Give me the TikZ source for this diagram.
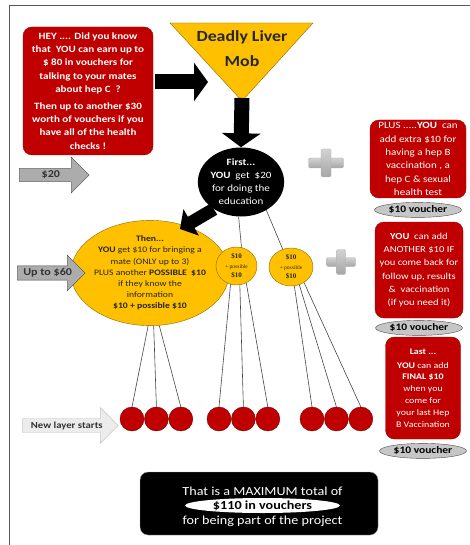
\documentclass[tikz,border=0pt]{standalone}
\usepackage{fontspec}
\setmainfont{Carlito}[FakeStretch=1.15]
\newfontfamily\smallserif{Liberation Serif}
\usetikzlibrary{arrows.meta,positioning,shapes.geometric,shapes.arrows}
\definecolor{hepred}{HTML}{C00000}
\definecolor{hepyellow}{HTML}{FFC000}
\definecolor{framegray}{HTML}{555555}
\tikzset{
	%Define standard arrow tip
	>=Stealth,
	%Define style for the red info boxes
	infobox/.style={
		rectangle,
		rounded corners=9pt,
		fill=hepred,
		draw=hepred!80!black,
		text=white,
		align=center,
		inner sep=1pt},
	% voucher ovals under the boxes
	voucher/.style={
		ellipse,
		fill=gray!45,
		draw=gray!60!black,
		minimum width=87pt,
		minimum height=15pt,
		inner sep=0pt,
		font=\bfseries\fontsize{10}{10}\selectfont},
	% grey arrows on the left
	sidepil/.style={
		single arrow,
		fill=gray!65,
		draw=gray!55!black,
		single arrow head extend=7pt,
		inner sep=0pt,
		minimum width=36pt,
		font=\bfseries\fontsize{10.5}{11}\selectfont,
		text=black!80},
	% black block arrows
	blockpil/.style={
		line width=15pt,
		-{Triangle[length=14pt,width=38pt]}},
	% yellow ellipses
	mobnode/.style={
		ellipse,
		fill=hepyellow,
		draw=hepyellow!55!black,
		align=center,
		inner sep=0pt,
		text=black!85},
	ball/.style={
		circle,
		fill=hepred,
		draw=hepred!60!black,
		minimum size=24pt,
		inner sep=0pt},
	string/.style={
		draw=gray!55!black,
		line width=0.6pt},
	plusbar/.style={
		rectangle,
		rounded corners=1.5pt,
		top color=gray!35,
		bottom color=gray!70,
		draw=gray!60,
		inner sep=0pt}
}

\begin{document}
\begin{tikzpicture}[x=1pt, y=-1pt]
	\useasboundingbox (0,0) rectangle (470,545);
	% frame
	\draw[framegray, line width=1pt] (9,545) -- (9,6) -- (470,6);
	
	% title triangle
	\filldraw[fill=hepyellow, draw=hepyellow!55!black] (170,23) coordinate (mobtl)
		-- (313,23) coordinate (mobtr) -- (242,101) coordinate (mobtip) -- cycle;
	\node[align=center, font=\bfseries\fontsize{15.5}{25}\selectfont, text=black!85] (mob) at (242,49) {Deadly Liver\\Mob};
	
	% left red box
	\node[infobox, minimum width=130pt, minimum height=128pt,
		font=\bfseries\fontsize{9.6}{13.3}\selectfont] (hey) at (88,91)
		{HEY .... Did you know\\ that\ \ YOU can earn up to\\ \$ 80 in vouchers for\\ talking to your mates\\ about hep C\ \ ?\\[3.5pt]
		 Then up to another \$30\\ worth of vouchers if you\\ have all of the health\\ checks !};
	\coordinate (mobleft) at (208,82);
	\draw[blockpil] (hey.east |- mobleft) ++(2,0) -- (mobleft);
	
	% first step
	\node[ellipse, fill=black, minimum width=83pt, minimum height=69pt, inner sep=0pt,
		text=white, align=center, font=\fontsize{9.6}{13}\selectfont] (first) at (241,182)
		{\textbf{First...}\\ \textbf{YOU}\ \ get\ \ \$20\\ for doing the\\ education};
	\draw[blockpil] ([yshift=3pt]mobtip) -- (first.north);
	
	% plus signs
	\node[plusbar, minimum width=35pt, minimum height=10pt] (plusAh) at (326,163) {};
	\node[plusbar, minimum width=10pt, minimum height=28pt] (plusAv) at (326,163) {};
	\node[plusbar, minimum width=29pt, minimum height=9pt] (plusBh) at (341,262) {};
	\node[plusbar, minimum width=9pt, minimum height=25pt] (plusBv) at (341,262) {};
	
	% right boxes and vouchers
	\node[infobox, minimum width=96pt, minimum height=78pt,
		font=\fontsize{9.6}{13.3}\selectfont] (plusbox) at (418,159)
		{PLUS .....\textbf{YOU}\ \ can\\ add extra \$10 for\\ having a hep B\\ vaccination , a\\ hep C \& sexual\\ health test};
	\node[voucher, below=4pt of plusbox] (vouchA) {\$10 voucher};
	
	\node[infobox, minimum width=88pt, minimum height=96pt,
		font=\fontsize{9.2}{13.3}\selectfont] (anotherbox) at (419,270)
		{\textbf{YOU}\ \ can add\\ ANOTHER \$10 IF\\ you come back for\\ follow up, results\\ \&\ \ vaccination\\ (if you need it)};
	\node[voucher, below=2pt of anotherbox] (vouchB) {\$10 voucher};
	
	\node[infobox, minimum width=75pt, minimum height=102pt,
		font=\fontsize{8.6}{11.8}\selectfont] (lastbox) at (423,388)
		{\textbf{Last ...}\\[2pt] \textbf{YOU} can add\\ \textbf{FINAL \$10}\\ when you\\ come for\\ your last Hep\\ B Vaccination};
	\node[voucher, below=4pt of lastbox] (vouchC) {\$10 voucher};
	
	% then step
	\node[mobnode, minimum width=123pt, minimum height=93pt,
		font=\fontsize{8.4}{11.2}\selectfont] (then) at (150,273)
		{\textbf{Then...}\\ \textbf{YOU} get \$10 for bringing a\\ mate (ONLY up to 3)\\ PLUS another \textbf{POSSIBLE\ \ \$10}\\ if they know the\\ information\\ \textbf{\$10 + possible \$10}};
	\coordinate (thentip) at (180,229);
	\draw[blockpil, line width=13pt, -{Triangle[length=13pt,width=30pt]}] (first.225) -- (thentip);
	
	\node[mobnode, minimum width=41pt, minimum height=38pt,
		font=\smallserif\fontsize{7}{9.5}\selectfont] (mateA) at (236.5,266)
		{\textbf{\$10}\\ {\fontsize{5.5}{9.5}\selectfont + possible}\\ \textbf{\$10}};
	\node[mobnode, minimum width=44pt, minimum height=38pt,
		font=\smallserif\fontsize{7}{9.5}\selectfont] (mateB) at (291,267)
		{\textbf{\$10}\\ {\fontsize{5.5}{9.5}\selectfont + possible}\\ \textbf{\$10}};
	\draw[string] (first.266) -- (mateA.75);
	\draw[string] (first.312) -- (mateB.115);
	
	% grey arrows
	\node[sidepil, minimum height=70pt, anchor=west] (twenty) at (19,175) {\$20\hspace{8pt}};
	\node[sidepil, minimum height=68pt, anchor=west] (sixty) at (17,273) {Up to \$60};
	\node[sidepil, minimum height=96pt, anchor=west, fill=gray!15, draw=gray!60,
		font=\bfseries\fontsize{9.3}{10}\selectfont] (newlayer) at (22,425.5) {New layer starts};
	
	% balls
	\node[ball] (ballA1) at (132,419) {};
	\node[ball, right=0pt of ballA1] (ballA2) {};
	\node[ball, right=0pt of ballA2] (ballA3) {};
	\node[ball] (ballB1) at (219,419) {};
	\node[ball, right=0pt of ballB1] (ballB2) {};
	\node[ball, right=0pt of ballB2] (ballB3) {};
	\node[ball] (ballC1) at (312,419) {};
	\node[ball, right=0pt of ballC1] (ballC2) {};
	\node[ball, right=0pt of ballC2] (ballC3) {};
	
	% strings
	\draw[string] (then.268) -- (ballA1.north);
	\draw[string] (then.274) -- (ballA2.north);
	\draw[string] (then.280) -- (ballA3.north);
	\draw[string] (mateA.252) -- (ballB1.north);
	\draw[string] (mateA.280) -- (ballB2.north);
	\draw[string] (mateA.300) -- (ballB3.north);
	\draw[string] (mateB.280) -- (ballC1.north);
	\draw[string] (mateB.295) -- (ballC2.north);
	\draw[string] (mateB.310) -- (ballC3.north);
	
	% total box
	\node[rectangle, rounded corners=8pt, fill=black, draw=gray!70, minimum width=238pt, minimum height=63pt] (total) at (259,503.5) {};
	\node[ellipse, fill=white, minimum width=155pt, minimum height=15pt, inner sep=0pt,
		font=\bfseries\fontsize{12.3}{12}\selectfont] (hundred) at (262.5,505.5) {\$110 in vouchers};
	\node[above=-1pt of hundred, text=white, font=\fontsize{12.3}{12}\selectfont] (maxline) {That is a MAXIMUM total of};
	\node[below=-1pt of hundred, text=white, font=\fontsize{12.3}{12}\selectfont] (projline) {for being part of the project};
\end{tikzpicture}
\end{document}
